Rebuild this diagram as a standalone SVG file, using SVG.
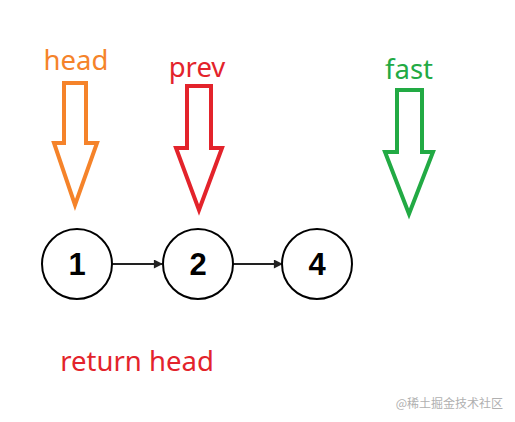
<svg xmlns="http://www.w3.org/2000/svg" width="515" height="422" viewBox="0 0 515 422">
<defs>
<style>
.lbl{font-family:"Noto Sans","Open Sans",sans-serif;font-size:27.5px;text-anchor:middle}
.ptr{fill:#fff;stroke-width:4;stroke-linejoin:miter}
.node circle{fill:#fff;stroke:#000;stroke-width:2}
.node text{font-family:"Liberation Sans",Arial,sans-serif;font-weight:bold;font-size:31px;text-anchor:middle}
.edge{stroke:#222;stroke-width:2;fill:none}
</style>
<marker id="ah" viewBox="0 0 10 10" refX="9" refY="5" markerWidth="10" markerHeight="9" markerUnits="userSpaceOnUse" orient="auto">
<path d="M0,0 L10,5 L0,10 Z" fill="#222"/>
</marker>
</defs>
<rect width="515" height="422" fill="#fff"/>
<g id="ptr-head">
<text class="lbl" x="76" y="70" fill="#f5832a">head</text>
<path class="ptr" stroke="#f5832a" d="M64,83 H86 V143 H97 L75,205 L54,143 H64 Z"/>
</g>
<g id="ptr-prev">
<text class="lbl" x="197" y="77" fill="#e3232b">prev</text>
<path class="ptr" stroke="#e3232b" d="M187,86 H211 V148 H222 L199,210 L176,148 H187 Z"/>
</g>
<g id="ptr-fast">
<text class="lbl" x="409" y="79" fill="#22aa44">fast</text>
<path class="ptr" stroke="#22aa44" d="M397,90 H422 V152 H433 L409,214 L385,152 H397 Z"/>
</g>
<g id="edges">
<line class="edge" x1="112" y1="264" x2="162" y2="264" marker-end="url(#ah)"/>
<line class="edge" x1="233" y1="264" x2="282" y2="264" marker-end="url(#ah)"/>
</g>
<g id="node1" class="node"><circle cx="77" cy="264" r="35"/><text x="77" y="275">1</text></g>
<g id="node2" class="node"><circle cx="198" cy="264" r="35"/><text x="198" y="275">2</text></g>
<g id="node4" class="node"><circle cx="317" cy="264" r="35"/><text x="317" y="275">4</text></g>
<text id="ret" class="lbl" x="137" y="371" fill="#e3232b">return head</text>
<text id="wm" x="503" y="408" text-anchor="end" font-family="'Noto Sans CJK SC',sans-serif" font-size="12" fill="#b0b0b0">@稀土掘金技术社区</text>
</svg>
